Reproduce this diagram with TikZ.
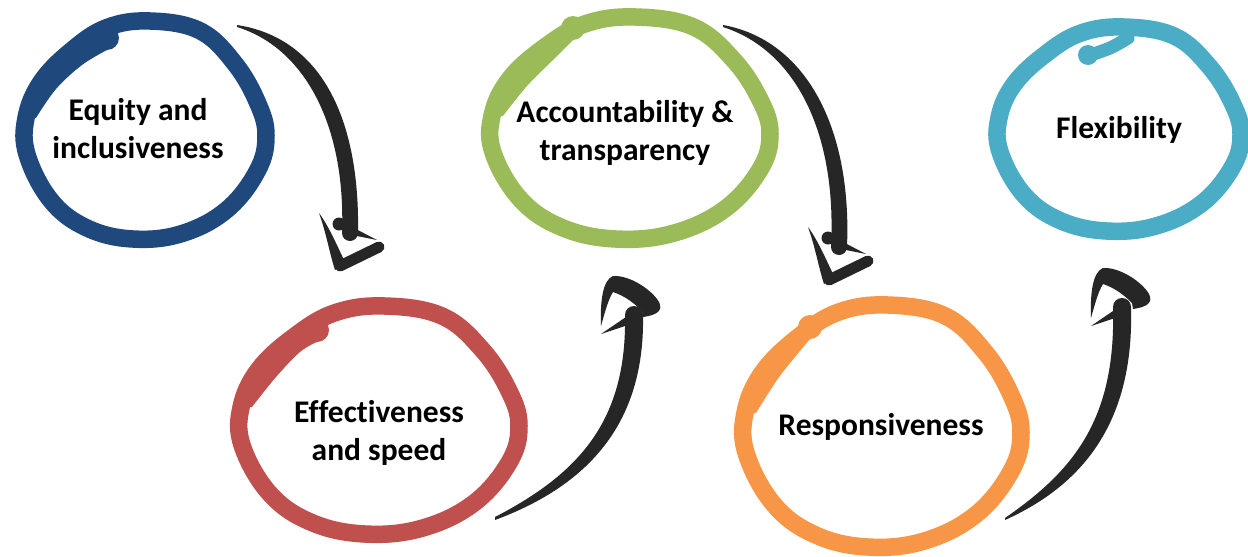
\documentclass[tikz,border=0pt]{standalone}
\usepackage{fontspec}
\setmainfont{Carlito}[Ligatures=NoCommon]
\definecolor{cblue}{HTML}{1F497D}
\definecolor{cred}{HTML}{C0504D}
\definecolor{cgreen}{HTML}{9BBB59}
\definecolor{corange}{HTML}{F79646}
\definecolor{ccyan}{HTML}{4BACC6}
\definecolor{inkc}{HTML}{262626}
\newcommand\handloop[5]{%
  \begin{scope}[shift={(#1,#2)}, xscale=#3, yscale=#4]
    \draw[ring, draw=#5] plot[smooth cycle, tension=0.65] coordinates {(-0.325,-0.94) (0.033,-1.0) (0.45,-0.91) (0.74,-0.61) (0.93,-0.25) (1.0,0.05) (0.93,0.37) (0.675,0.73) (0.3,0.95) (-0.11,1.0) (-0.49,0.9) (-0.79,0.65) (-0.99,0.23) (-1.0,-0.11) (-0.875,-0.44) (-0.62,-0.73)};
  \end{scope}}
\begin{document}
\begin{tikzpicture}[x=1pt,y=-1pt,
  lbl/.style={font=\fontsize{31.5}{38}\selectfont\bfseries, align=center, inner sep=0pt, text=black},
  ring/.style={line width=17.5pt, line join=round},
  brush/.style={fill=inkc, draw=none},
  armline/.style={draw=inkc, line width=11pt, line cap=round, line join=round}]
\clip (0,0) rectangle (1248,557);
\fill[white] (0,0) rectangle (1248,557);

% ---------- arrows ----------
% arrow 1 (equity -> effectiveness)
\coordinate (a1s) at (237,26);
\coordinate (a1e) at (350,233);
\fill[brush] (237,25) .. controls (322,38) and (360,120) .. (358,233) -- (342,233) .. controls (346,126) and (305,48) .. (237,27) -- cycle;
\fill[brush] (a1e) circle[radius=8pt];
\begin{scope}
  \fill[brush] (339,224) circle[radius=6.5pt];
  \fill[brush] (352,227) -- (377,240) -- (352,235) -- cycle;
  \fill[brush] (319,213) .. controls (326,232) and (330,255) .. (335,270) -- (346,264) .. controls (338,248) and (330,228) .. (319,213) -- cycle;
  \draw[armline] (340,266) -- (379,247);
\end{scope}

% arrow 3 (accountability -> responsiveness)
\coordinate (a3s) at (723,26);
\coordinate (a3e) at (839,247);
\fill[brush] (723,25) .. controls (806,40) and (852,128) .. (847,247) -- (831,247) .. controls (837,132) and (795,50) .. (723,27) -- cycle;
\fill[brush] (a3e) circle[radius=8pt];
\begin{scope}[shift={(489,14)}]
  \fill[brush] (339,224) circle[radius=6.5pt];
  \fill[brush] (352,227) -- (377,240) -- (352,235) -- cycle;
  \fill[brush] (319,213) .. controls (326,232) and (330,255) .. (335,270) -- (346,264) .. controls (338,248) and (330,228) .. (319,213) -- cycle;
  \draw[armline] (340,266) -- (379,247);
\end{scope}

% arrow 2 (effectiveness -> accountability)
\coordinate (a2s) at (495,518);
\coordinate (a2e) at (634,315);
\fill[brush] (495,520) .. controls (592,484) and (645,420) .. (643,315) -- (625,315) .. controls (627,420) and (580,473) .. (495,517) -- cycle;
\fill[brush] (a2e) circle[radius=9pt];
\begin{scope}
  \fill[brush] (601,326) .. controls (600,300) and (603,280) .. (613,276) .. controls (630,275) and (652,290) .. (659,302) .. controls (663,310) and (658,315) .. (643,317) -- (642,311) .. controls (634,303) and (625,296) .. (613,292) .. controls (608,300) and (605,312) .. (601,326) -- cycle;
  \fill[brush] (626,317) -- (601,334) -- (628,325) -- cycle;
\end{scope}

% arrow 4 (responsiveness -> flexibility)
\coordinate (a4s) at (1005,518);
\coordinate (a4e) at (1122,307);
\fill[brush] (1005,520) .. controls (1085,484) and (1134,420) .. (1131,308) -- (1113,308) .. controls (1116,420) and (1073,471) .. (1005,518) -- cycle;
\fill[brush] (a4e) circle[radius=9pt];
\begin{scope}[shift={(490,-8)}]
  \fill[brush] (601,326) .. controls (600,300) and (603,280) .. (613,276) .. controls (630,275) and (652,290) .. (659,302) .. controls (663,310) and (658,315) .. (643,317) -- (642,311) .. controls (634,303) and (625,296) .. (613,292) .. controls (608,300) and (605,312) .. (601,326) -- cycle;
  \fill[brush] (626,317) -- (601,334) -- (628,325) -- cycle;
\end{scope}

% ---------- rings ----------
% blue
\handloop{146}{130}{120}{109}{cblue}
\fill[cblue] plot[smooth, tension=0.6] coordinates {(107,28) (72,50) (41,82) (26,118)} -- plot[smooth, tension=0.6] coordinates {(36,118) (56,89) (82,65) (107,50)} -- cycle;
\fill[cblue] (107,38) circle[radius=12pt];
% red
\handloop{380}{420}{139}{114}{cred}
\fill[cred] plot[smooth, tension=0.6] coordinates {(315,323) (294,337) (258,370) (241,407)} -- plot[smooth, tension=0.6] coordinates {(252,407) (276,377) (300,352) (317,342)} -- cycle;
\fill[cred] (317,330) circle[radius=12pt];
% green
\handloop{631}{128}{139}{111}{cgreen}
\fill[cgreen] plot[smooth, tension=0.6] coordinates {(573,30) (545,47) (509,79) (492,116)} -- plot[smooth, tension=0.6] coordinates {(503,116) (527,86) (553,60) (573,40)} -- cycle;
\fill[cgreen] (573,28) circle[radius=12pt];
% orange
\handloop{883}{426}{138}{121}{corange}
\fill[corange] plot[smooth, tension=0.6] coordinates {(810,329) (797,338) (762,373) (745,413)} -- plot[smooth, tension=0.6] coordinates {(756,413) (777,380) (795,357) (810,339)} -- cycle;
\fill[corange] (810,327) circle[radius=12pt];
% cyan
\handloop{1120}{129}{121}{102}{ccyan}
\draw[draw=ccyan, line width=13pt, line cap=round] plot[smooth, tension=0.6] coordinates {(1090,55) (1110,48) (1128,38)};
\fill[ccyan] (1088,55) circle[radius=10pt];

% ---------- labels ----------
\node[lbl, anchor=base] (equity) at (138,158) {Equity and\\inclusiveness};
\node[lbl, anchor=base] (effect) at (379,460) {Effectiveness\\and speed};
\node[lbl, anchor=base] (account) at (625,160) {Accountability \&\\transparency};
\node[lbl, anchor=base] (respons) at (881,435) {Responsiveness};
\node[lbl, anchor=base] (flex) at (1119,138) {Flexibility};
\end{tikzpicture}
\end{document}
